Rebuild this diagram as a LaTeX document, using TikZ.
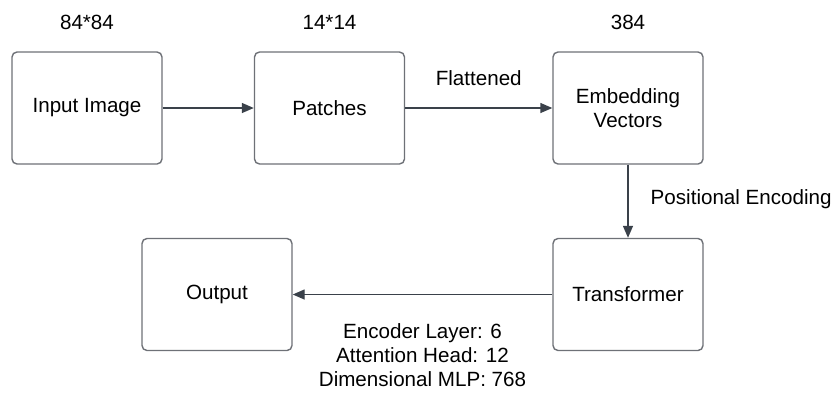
\documentclass[tikz,border=0pt]{standalone}
\usepackage{fontspec}
\setmainfont{Liberation Sans}
\usetikzlibrary{arrows.meta}
\definecolor{boxline}{HTML}{6E7177}
\definecolor{arrowc}{HTML}{3A414A}
\begin{document}
\begin{tikzpicture}[x=1pt,y=-1pt,
  font=\fontsize{20.6}{24}\selectfont,
  stagebox/.style={draw=boxline, line width=1.4pt, rounded corners=5pt, fill=white,
    minimum width=150pt, minimum height=112pt, align=center, inner sep=0pt},
  flow/.style={draw=arrowc, line width=1.4pt, -{Triangle[length=12pt,width=10pt]}},
  lbl/.style={inner sep=0pt, align=center}]
\useasboundingbox (0,0) rectangle (832,392);
\node[stagebox] (in) at (87,108) {Input Image};
\node[stagebox] (pa) at (329.5,108) {Patches};
\node[stagebox] (em) at (628,108) {Embedding\\Vectors};
\node[stagebox] (tr) at (628,294.5) {Transformer};
\node[stagebox] (out) at (217,294.5) {Output};
\node[lbl] (t1) at (87,22) {84*84};
\node[lbl] (t2) at (329.5,22) {14*14};
\node[lbl] (t3) at (628,22) {384};
\draw[flow] (in.east) -- (pa.west);
\draw[flow] (pa.east) -- node[lbl, yshift=30pt] (fl) {Flattened} (em.west);
\draw[flow] (em.south) -- node[lbl, anchor=west, xshift=22pt, yshift=2pt] (pe) {Positional Encoding} (tr.north);
\draw[flow] (tr.west) -- node[lbl, yshift=-61pt] (cfg) {Encoder Layer: 6\\Attention Head: 12\\Dimensional MLP: 768} (out.east);
\end{tikzpicture}
\end{document}
